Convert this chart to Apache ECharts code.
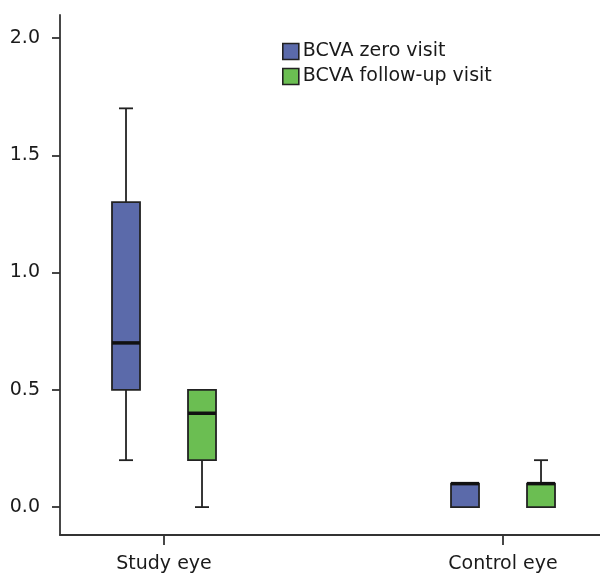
<!DOCTYPE html>
<html><head><meta charset="utf-8">
<script src="https://cdn.jsdelivr.net/npm/echarts@6/dist/echarts.min.js"></script>
<style>html,body{margin:0;padding:0;background:#fff}#c{width:600px;height:574px}</style>
</head><body><div id="c"></div>
<script>
// Data: [min, Q1, median, Q3, max]
const categories = ['Study eye', 'Control eye'];
const seriesNames = ['BCVA zero visit', 'BCVA follow-up visit'];
const zeroVisit = [[0.2, 0.5, 0.7, 1.3, 1.7], [0.0, 0.0, 0.1, 0.1, 0.1]];
const followUpVisit = [[0.0, 0.2, 0.4, 0.5, 0.5], [0.0, 0.0, 0.1, 0.1, 0.2]];
const yTicks = [0, 0.5, 1.0, 1.5, 2.0];

const FONT = 'DejaVu Sans';
const TXT = '#1a1a1a';
const colors = ['#5b6aaa', '#6bbe52'];
const offsets = [-38, 38];
const BOX_W = 28, CAP_W = 14;

function makeRender(offset) {
  return function (params, api) {
    const x = api.value(0);
    const vals = [api.value(1), api.value(2), api.value(3), api.value(4), api.value(5)];
    const pMin = api.coord([x, vals[0]]);
    const pQ1 = api.coord([x, vals[1]]);
    const pMed = api.coord([x, vals[2]]);
    const pQ3 = api.coord([x, vals[3]]);
    const pMax = api.coord([x, vals[4]]);
    const cx = pMin[0] + offset;
    const stroke = { stroke: '#222', lineWidth: 1.8, fill: null };
    const children = [];
    children.push({ type: 'line', shape: { x1: cx, y1: pQ3[1], x2: cx, y2: pMax[1] }, style: stroke });
    children.push({ type: 'line', shape: { x1: cx, y1: pQ1[1], x2: cx, y2: pMin[1] }, style: stroke });
    if (pMax[1] < pQ3[1] - 0.5)
      children.push({ type: 'line', shape: { x1: cx - CAP_W / 2, y1: pMax[1], x2: cx + CAP_W / 2, y2: pMax[1] }, style: stroke });
    if (pMin[1] > pQ1[1] + 0.5)
      children.push({ type: 'line', shape: { x1: cx - CAP_W / 2, y1: pMin[1], x2: cx + CAP_W / 2, y2: pMin[1] }, style: stroke });
    children.push({ type: 'rect', shape: { x: cx - BOX_W / 2, y: pQ3[1], width: BOX_W, height: pQ1[1] - pQ3[1] },
      style: { fill: api.visual('color'), stroke: '#222', lineWidth: 1.8 } });
    children.push({ type: 'line', shape: { x1: cx - BOX_W / 2, y1: pMed[1], x2: cx + BOX_W / 2, y2: pMed[1] },
      style: { stroke: '#111', lineWidth: 3.5 } });
    return { type: 'group', children: children };
  };
}

function toData(arr) {
  return arr.map((d, i) => [i + 1].concat(d));
}

const chart = echarts.init(document.getElementById('c'));
chart.setOption({
  animation: false,
  textStyle: { fontFamily: FONT },
  legend: {
    orient: 'vertical', left: 277, top: 37, itemWidth: 16, itemHeight: 16, itemGap: 6,
    icon: 'rect',
    textStyle: { fontFamily: FONT, fontSize: 19, color: TXT, padding: [0, 0, 0, -1] },
    itemStyle: { borderColor: '#222', borderWidth: 1.6 },
    data: seriesNames
  },
  grid: { left: 60, right: 0, top: 15, bottom: 37 },
  xAxis: {
    type: 'value', min: 0.6932, max: 2.2861,
    splitLine: { show: false },
    axisLine: { show: true, onZero: false, lineStyle: { color: '#333', width: 1.8 } },
    axisTick: { show: true, length: 10, customValues: [1, 2], lineStyle: { color: '#333', width: 1.8 } },
    axisLabel: { customValues: [1, 2], margin: 20, fontFamily: FONT, fontSize: 19, color: TXT,
      formatter: v => categories[Math.round(v) - 1] || '' }
  },
  yAxis: {
    type: 'value', min: -0.119, max: 2.098,
    splitLine: { show: false },
    axisLine: { show: true, onZero: false, lineStyle: { color: '#333', width: 1.8 } },
    axisTick: { show: true, length: 8, customValues: yTicks, lineStyle: { color: '#333', width: 1.8 } },
    axisLabel: { customValues: yTicks, margin: 20, fontFamily: FONT, fontSize: 19, color: TXT,
      formatter: v => v.toFixed(1) }
  },
  series: [
    { name: seriesNames[0], type: 'custom', itemStyle: { color: colors[0] },
      renderItem: makeRender(offsets[0]), encode: { x: 0, y: [1, 2, 3, 4, 5] }, data: toData(zeroVisit) },
    { name: seriesNames[1], type: 'custom', itemStyle: { color: colors[1] },
      renderItem: makeRender(offsets[1]), encode: { x: 0, y: [1, 2, 3, 4, 5] }, data: toData(followUpVisit) }
  ]
});
</script></body></html>
